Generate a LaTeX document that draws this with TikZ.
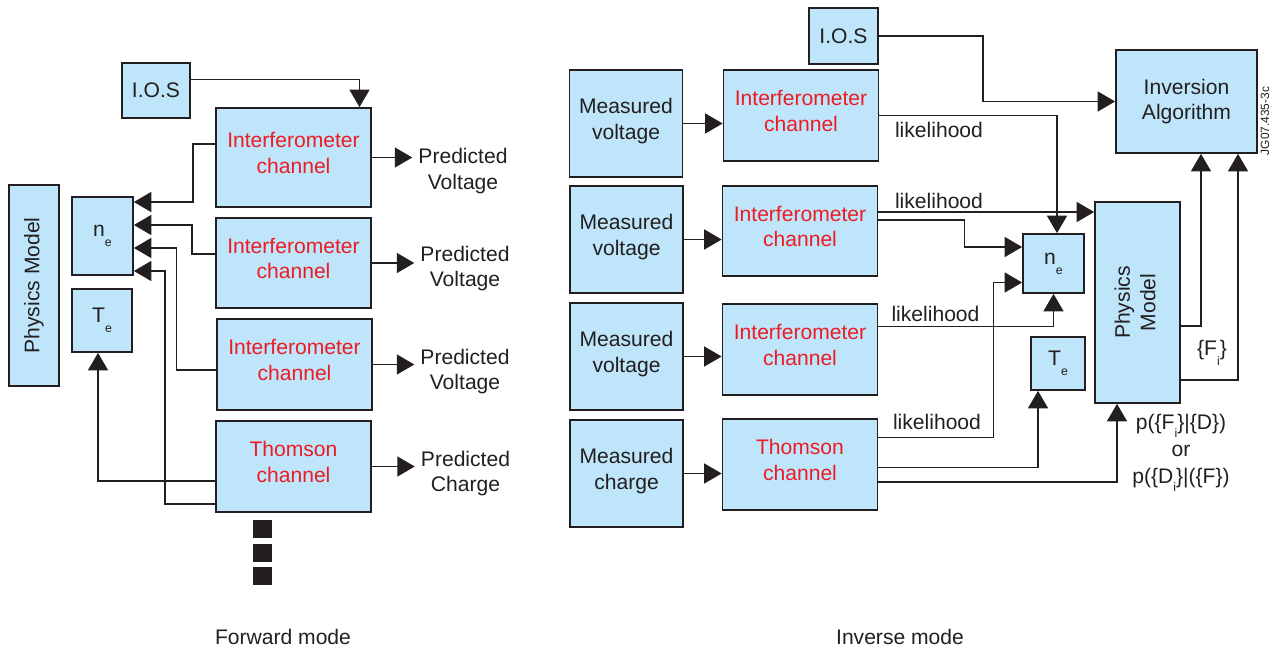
\documentclass[tikz,border=0pt]{standalone}
\usepackage{fontspec}
\setmainfont{Liberation Sans}
\usetikzlibrary{arrows.meta, positioning, calc}
\definecolor{boxblue}{RGB}{190, 229, 250}
\definecolor{chanred}{RGB}{237, 28, 36}
\definecolor{inkdark}{RGB}{35, 31, 32}
\newcommand{\lowsub}[1]{\raisebox{-0.9ex}{\scriptsize #1}}
\tikzset{
    box/.style={
        rectangle, draw=inkdark, line width=1pt, fill=boxblue, text=inkdark,
        font=\fontsize{12}{14.5}\selectfont, align=center, inner sep=0pt
    },
    chanbox/.style={box, text=chanred, minimum width=3.1cm,
        execute at end node={\rule[-0.18cm]{0pt}{0pt}}},
    measbox/.style={box, minimum width=2.26cm, minimum height=2.14cm,
        execute at end node={\rule[-0.18cm]{0pt}{0pt}}},
    arrow/.style={-{Triangle[length=0.35cm, width=0.4cm]}, line width=0.9pt, color=inkdark},
    note/.style={font=\fontsize{12}{14.5}\selectfont, text=inkdark, align=center},
}

\begin{document}
\begin{tikzpicture}[x=0.02cm, y=-0.02cm]
    \useasboundingbox (0,0) rectangle (1281,652);

    % forward mode
    \node[box, minimum width=1cm, minimum height=4.02cm] (pmL) at (34, 285.5) {\rotatebox{90}{Physics Model}};
    \node[box, minimum width=1.22cm, minimum height=1.56cm] (neL) at (102.5, 236) {n\lowsub{e}};
    \node[box, minimum width=1.2cm, minimum height=1.26cm] (teL) at (102, 320.5) {T\lowsub{e}};
    \node[box, minimum width=1.36cm, minimum height=1.1cm] (iosL) at (156, 90.5) {I.O.S};

    \node[chanbox, minimum height=1.98cm] (ifL1) at (293.5, 157.5) {Interferometer\\channel};
    \node[chanbox, minimum height=1.8cm] (ifL2) at (293.5, 263) {Interferometer\\channel};
    \node[chanbox, minimum height=1.82cm] (ifL3) at (294.5, 364.5) {Interferometer\\channel};
    \node[chanbox, minimum height=1.82cm] (thL) at (293.5, 466.5) {Thomson\\channel};

    \node[note] (pvL1) at (463, 171) {Predicted\\Voltage};
    \node[note] (pvL2) at (465, 268.5) {Predicted\\Voltage};
    \node[note] (pvL3) at (465, 371.5) {Predicted\\Voltage};
    \node[note] (pcL) at (465.5, 473.5) {Predicted\\Charge};

    \draw[arrow] (ifL1.east) -- (ifL1.east -| pvL1.west);
    \draw[arrow] (ifL2.east) -- (ifL2.east -| pvL2.west);
    \draw[arrow] (ifL3.east) -- (ifL3.east -| pvL3.west);
    \draw[arrow] (thL.east) -- (thL.east -| pcL.west);

    \draw[arrow] ([yshift=0.22cm]iosL.east) -| ([xshift=1.32cm]ifL1.north);
    \draw[arrow] ([yshift=0.27cm]ifL1.west) -- ++(-0.44cm,0) |- ([yshift=0.68cm]neL.east);
    \draw[arrow] ([yshift=0.18cm]ifL2.west) -- ++(-0.46cm,0) |- ([yshift=0.22cm]neL.east);
    \draw[arrow] ([yshift=-0.11cm]ifL3.west) -- ++(-0.79cm,0) |- ([yshift=-0.24cm]neL.east);
    \draw[arrow] ([yshift=-0.75cm]thL.west) -- ++(-1.0cm,0) |- ([yshift=-0.70cm]neL.east);
    \draw[arrow] ([yshift=-0.29cm]thL.west) -| ([xshift=-0.08cm]teL.south);

    \foreach \y in {529, 553, 576}
        \fill[inkdark] (253,\y-9) rectangle (272,\y+9);

    \node[note] (fwd) at (283, 637) {Forward mode};

    % inverse mode
    \node[box, minimum width=1.38cm, minimum height=1.12cm] (iosR) at (843.5, 36) {I.O.S};

    \node[measbox] (mv1) at (626, 123.5) {Measured\\voltage};
    \node[measbox] (mv2) at (626.5, 239.5) {Measured\\voltage};
    \node[measbox] (mv3) at (626.5, 356.5) {Measured\\voltage};
    \node[measbox] (mc) at (626.5, 473.5) {Measured\\charge};

    \node[chanbox, minimum height=1.82cm] (ifR1) at (801, 115.5) {Interferometer\\channel};
    \node[chanbox, minimum height=1.8cm] (ifR2) at (800, 231) {Interferometer\\channel};
    \node[chanbox, minimum height=1.82cm] (ifR3) at (800, 349.5) {Interferometer\\channel};
    \node[chanbox, minimum height=1.82cm] (thR) at (800, 464.5) {Thomson\\channel};

    \node[box, minimum width=2.82cm, minimum height=2.06cm] (invA) at (1186.5, 101.5) {Inversion\\Algorithm};
    \node[box, minimum width=1.22cm, minimum height=1.18cm] (neR) at (1053.5, 263.5) {n\lowsub{e}};
    \node[box, minimum width=1.08cm, minimum height=1.06cm] (teR) at (1058, 363.5) {T\lowsub{e}};
    \node[box, minimum width=1.7cm, minimum height=4.02cm] (pmR) at (1137.5, 302.5)
        {\rotatebox{90}{\begin{tabular}{@{}c@{}}Physics\\Model\end{tabular}}};
    \node[rotate=90, font=\fontsize{6.8}{8}\selectfont, text=inkdark] (jg) at (1265, 121) {JG07.435-3c};

    \draw[arrow] (mv1.east) -- (mv1.east -| ifR1.west);
    \draw[arrow] (mv2.east) -- (mv2.east -| ifR2.west);
    \draw[arrow] (mv3.east) -- (mv3.east -| ifR3.west);
    \draw[arrow] (mc.east) -- (mc.east -| thR.west);

    \draw[arrow] (iosR.east) -- ++(2.08cm,0) |- (invA.west);
    \draw[arrow] (ifR1.east) -| ([xshift=0.07cm]neR.north);
    \draw[arrow] ([yshift=0.38cm]ifR2.east) -- ([yshift=0.38cm]ifR2.east -| pmR.west);
    \draw[arrow] ([yshift=0.22cm]ifR2.east) -- ++(1.72cm,0) |- ([yshift=0.33cm]neR.west);
    \draw[arrow] ([yshift=0.46cm]ifR3.east) -| (neR.south);
    \draw[arrow] ([yshift=0.54cm]thR.east) -- ++(2.3cm,0) |- ([yshift=-0.38cm]neR.west);
    \draw[arrow] ([yshift=-0.06cm]thR.east) -| ([xshift=-0.4cm]teR.south);
    \draw[arrow] ([yshift=-0.35cm]thR.east) -| ([xshift=-0.41cm]pmR.south);
    \draw[arrow] ([yshift=-0.47cm]pmR.east) -| ([xshift=0.29cm]invA.south);
    \draw[arrow] ([yshift=-1.55cm]pmR.east) -| ([xshift=1.03cm]invA.south);

    \node[note] (lk1) at (939, 129.5) {likelihood};
    \node[note] (lk2) at (939, 200.5) {likelihood};
    \node[note] (lk3) at (935.5, 313.5) {likelihood};
    \node[note] (lk4) at (937, 421.5) {likelihood};
    \node[note] (fset) at (1212, 353) {\{F\lowsub{i}\}};
    \node[note, font=\fontsize{12}{15.5}\selectfont] (prob) at (1181, 453)
        {p(\{F\raisebox{-0.7ex}{\scriptsize i}\}|\{D\})\\or\\p(\{D\raisebox{-0.7ex}{\scriptsize i}\}|(\{F\})};

    \node[note] (inv) at (900, 637) {Inverse mode};
\end{tikzpicture}
\end{document}
